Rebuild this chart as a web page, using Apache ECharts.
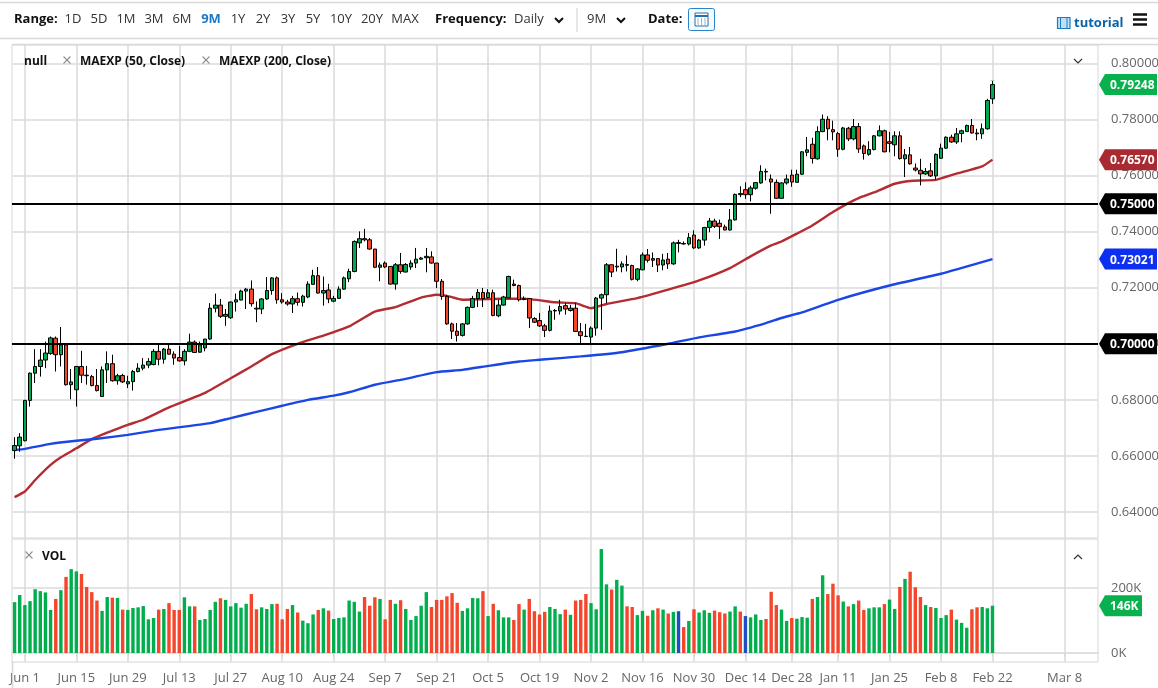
<!DOCTYPE html>
<html><head><meta charset="utf-8">
<style>html,body{margin:0;padding:0;background:#fff}#c{width:1158px;height:688px}</style>
<script src="https://cdn.jsdelivr.net/npm/echarts@6/dist/echarts.min.js"></script>
</head><body><div id="c"></div>
<script>
const tickIndex=[2,12,22,32,42,52,62,72,82,92,102,112,122,132,142,151,160,170,180,190,204];
const tickLabels=['Jun 1','Jun 15','Jun 29','Jul 13','Jul 27','Aug 10','Aug 24','Sep 7','Sep 21','Oct 5','Oct 19','Nov 2','Nov 16','Nov 30','Dec 14','Dec 28','Jan 11','Jan 25','Feb 8','Feb 22','Mar 8'];
const slotCount=211;
const opens=[.6619,.6636,.6654,.6798,.6895,.6919,.6942,.6965,.7020,.6961,
.6996,.6854,.6836,.6919,.6888,.6883,.6851,.6812,.6907,.6929,
.6868,.6887,.6857,.6865,.6901,.6913,.6924,.6926,.6973,.6945,
.6981,.6963,.6951,.6939,.6973,.7006,.6970,.6985,.7017,.7127,
.7138,.7098,.7093,.7149,.7156,.7188,.7195,.7127,.7124,.7160,
.7190,.7235,.7157,.7149,.7142,.7161,.7148,.7167,.7212,.7243,
.7181,.7192,.7152,.7162,.7195,.7232,.7258,.7360,.7375,.7371,
.7338,.7273,.7288,.7276,.7213,.7282,.7256,.7274,.7288,.7302,
.7307,.7310,.7288,.7223,.7169,.7071,.7045,.7030,.7071,.7130,
.7161,.7183,.7165,.7182,.7100,.7138,.7164,.7213,.7208,.7161,
.7161,.7090,.7083,.7064,.7048,.7117,.7117,.7136,.7119,.7127,
.7043,.7027,.7024,.7056,.7163,.7175,.7282,.7277,.7274,.7283,
.7279,.7230,.7264,.7317,.7298,.7304,.7281,.7302,.7285,.7358,
.7358,.7356,.7388,.7342,.7370,.7415,.7438,.7430,.7417,.7406,
.7442,.7536,.7550,.7532,.7555,.7574,.7615,.7588,.7576,.7519,
.7574,.7602,.7576,.7605,.7683,.7712,.7660,.7757,.7801,.7764,
.7750,.7694,.7769,.7731,.7775,.7706,.7676,.7693,.7742,.7760,
.7721,.7710,.7742,.7660,.7674,.7627,.7619,.7606,.7617,.7599,
.7662,.7698,.7737,.7720,.7750,.7757,.7779,.7752,.7749,.7767,.7874];
const closes=[.6637,.6667,.6798,.6895,.6919,.6942,.6967,.7021,.6961,.6996,
.6854,.6864,.6919,.6888,.6886,.6851,.6833,.6907,.6929,.6868,
.6886,.6864,.6865,.6901,.6913,.6924,.6937,.6973,.6945,.6981,
.6963,.6949,.6939,.6973,.7006,.6969,.6996,.7017,.7127,.7138,
.7098,.7105,.7149,.7157,.7188,.7195,.7143,.7124,.7160,.7190,
.7235,.7157,.7149,.7142,.7161,.7148,.7170,.7213,.7243,.7181,
.7190,.7160,.7162,.7195,.7235,.7258,.7365,.7375,.7371,.7338,
.7273,.7281,.7274,.7213,.7282,.7258,.7283,.7288,.7302,.7306,
.7312,.7288,.7223,.7169,.7071,.7045,.7030,.7071,.7130,.7161,
.7183,.7161,.7182,.7101,.7138,.7167,.7240,.7208,.7157,.7158,
.7092,.7077,.7064,.7048,.7117,.7119,.7133,.7124,.7127,.7044,
.7029,.7026,.7056,.7163,.7175,.7282,.7256,.7274,.7285,.7280,
.7230,.7267,.7317,.7298,.7304,.7281,.7299,.7285,.7360,.7361,
.7356,.7379,.7342,.7370,.7415,.7438,.7419,.7418,.7406,.7442,
.7533,.7532,.7532,.7556,.7575,.7615,.7613,.7577,.7519,.7574,
.7588,.7577,.7605,.7685,.7692,.7661,.7757,.7801,.7767,.7756,
.7694,.7770,.7731,.7775,.7695,.7679,.7693,.7742,.7760,.7685,
.7715,.7742,.7661,.7674,.7642,.7620,.7606,.7615,.7599,.7676,
.7698,.7737,.7720,.7749,.7760,.7779,.7752,.7749,.7767,.7868,.79248];
const lows=[.6590,.6615,.6652,.6776,.6860,.6883,.6913,.6961,.6901,.6919,
.6851,.6802,.6776,.6860,.6854,.6848,.6830,.6810,.6860,.6865,
.6854,.6860,.6842,.6833,.6898,.6905,.6913,.6923,.6923,.6929,
.6961,.6925,.6937,.6923,.6970,.6967,.6968,.6973,.7014,.7112,
.7092,.7064,.7089,.7115,.7155,.7124,.7133,.7077,.7106,.7157,
.7175,.7143,.7143,.7136,.7110,.7136,.7133,.7163,.7211,.7179,
.7136,.7145,.7148,.7160,.7193,.7220,.7255,.7342,.7365,.7336,
.7270,.7223,.7270,.7211,.7193,.7250,.7255,.7264,.7270,.7300,
.7255,.7286,.7199,.7157,.7068,.7017,.7008,.7026,.7068,.7127,
.7131,.7131,.7162,.7098,.7095,.7136,.7162,.7205,.7151,.7155,
.7056,.7074,.7060,.7024,.7044,.7086,.7104,.7104,.7115,.7042,
.7000,.7024,.6995,.7029,.7050,.7145,.7238,.7258,.7255,.7258,
.7226,.7223,.7262,.7290,.7274,.7256,.7262,.7267,.7282,.7326,
.7354,.7351,.7339,.7339,.7350,.7398,.7413,.7374,.7405,.7404,
.7440,.7523,.7517,.7508,.7550,.7571,.7583,.7464,.7517,.7517,
.7568,.7560,.7576,.7602,.7669,.7643,.7657,.7755,.7726,.7726,
.7667,.7690,.7723,.7726,.7681,.7657,.7671,.7690,.7740,.7683,
.7683,.7669,.7657,.7595,.7639,.7615,.7565,.7602,.7595,.7586,
.7660,.7695,.7717,.7713,.7719,.7756,.7750,.7726,.7731,.7764,.7856];
const highs=[.6667,.6681,.6800,.6898,.6981,.6981,.7008,.7026,.7026,.7060,
.7000,.6910,.6921,.6975,.6921,.6889,.6910,.6919,.6973,.6961,
.6893,.6893,.6886,.6907,.6931,.6949,.6949,.6981,.6996,.6985,
.6996,.6973,.6993,.6981,.7036,.7012,.7008,.7017,.7145,.7179,
.7160,.7124,.7151,.7179,.7193,.7199,.7226,.7151,.7163,.7238,
.7238,.7240,.7181,.7157,.7171,.7183,.7175,.7223,.7264,.7274,
.7240,.7214,.7171,.7205,.7240,.7268,.7369,.7401,.7410,.7377,
.7338,.7290,.7294,.7276,.7288,.7324,.7288,.7298,.7342,.7310,
.7342,.7330,.7288,.7231,.7174,.7076,.7074,.7074,.7133,.7171,
.7195,.7199,.7195,.7193,.7157,.7171,.7243,.7229,.7211,.7169,
.7163,.7095,.7110,.7071,.7136,.7124,.7157,.7145,.7139,.7145,
.7074,.7071,.7062,.7167,.7179,.7288,.7282,.7339,.7294,.7315,
.7282,.7270,.7326,.7338,.7326,.7306,.7321,.7324,.7365,.7371,
.7365,.7395,.7405,.7374,.7417,.7449,.7446,.7443,.7425,.7481,
.7536,.7562,.7576,.7564,.7577,.7637,.7625,.7604,.7586,.7576,
.7604,.7621,.7621,.7687,.7738,.7735,.7776,.7818,.7812,.7796,
.7756,.7774,.7774,.7802,.7788,.7711,.7723,.7745,.7779,.7764,
.7756,.7758,.7758,.7695,.7702,.7643,.7660,.7627,.7645,.7679,
.7714,.7740,.7746,.7770,.7764,.7782,.7802,.7767,.7786,.7874,.7939];
const volumes=[157,179,148,160,197,191,187,133,167,194,
235,259,252,244,204,188,162,130,173,171,
170,134,133,139,141,145,104,108,134,136,
154,133,133,172,144,144,102,105,133,158,
169,164,144,154,140,152,182,135,141,136,
151,152,104,136,148,125,100,92,119,133,
138,131,105,108,110,162,158,128,173,146,
172,167,104,164,152,163,136,102,114,146,
188,142,164,164,175,185,155,130,138,170,
169,191,114,152,132,110,110,102,151,134,
167,129,119,127,142,136,120,134,118,162,
164,182,154,135,321,212,196,226,208,144,
142,117,130,115,132,138,134,122,127,129,
80,99,135,125,132,124,131,126,122,128,
144,128,114,110,119,102,105,189,148,134,
99,108,106,111,109,167,173,240,182,214,
178,159,144,151,162,133,138,141,141,151,
165,136,204,229,251,203,173,148,142,139,
108,117,134,103,93,78,135,141,142,138,146];
const volumeKinds='ggggggggrg'+'rggrrrrggr'+'grggggggrg'+'rrrggrgggg'+'rgggggrrgg'+'grrrgrgggr'+'grggggggrr'+'rgrrgrgggg'+'grrrrrrggg'+'grgrgggrrg'+'rrrrgggrgr'+'rrggggrggr'+'rggrgrgrgb'+'rgrgggrrrg'+'grbgggrrrg'+'grgggrggrr'+'rgrgrrgggr'+'ggrgrrrgrg'+'ggrgggrrggg';
const ma50Index=[0,2,4,7,9,12,15,18,22,25,30,37,42,46,50,55,60,65,70,74,79,82,84,87,92,99,105,109,112,115,121,127,133,139,143,147,149,152,155,159,162,164,167,171,174,179,183,188,190];
const ma50Values=[.6453,.6473,.6514,.6568,.6595,.6627,.6660,.6683,.6711,.6729,.6773,.6825,.6877,.6919,.6963,.7000,.7029,.7062,.7115,.7131,.7165,.7175,.7171,.7157,.7160,.7161,.7148,.7145,.7127,.7142,.7163,.7193,.7226,.7270,.7312,.7351,.7365,.7393,.7422,.7470,.7502,.7520,.7540,.7571,.7581,.7585,.7607,.7633,.7657];
const ma200Index=[0,2,7,12,16,22,28,38,42,47,52,57,62,65,70,75,82,87,92,98,102,110,118,127,133,140,146,149,153,160,170,180,190];
const ma200Values=[.6621,.6625,.6643,.6654,.6661,.6675,.6693,.6717,.6735,.6757,.6779,.6800,.6815,.6827,.6854,.6871,.6899,.6907,.6921,.6937,.6943,.6955,.6970,.7000,.7023,.7044,.7074,.7092,.7112,.7157,.7208,.7250,.7302];
const priceTicks=[.64,.66,.68,.70,.72,.74,.76,.78,.80];
const volumeTicks=[0,200];
const levels=[.70,.75];
const priceTags=[.79248,.7657,.75,.73021,.70];
const priceTagText=['0.79248','0.76570','0.75000','0.73021','0.70000'];
const priceTagColor=['#09b14e','#a92a30','#000','#0d2ff0','#000'];
const rangeLabels=[['1D',73],['5D',99],['1M',126],['3M',154],['6M',182],['9M',211],['1Y',238],['2Y',263],['3Y',288],['5Y',313],['10Y',341],['20Y',372],['MAX',405]];

const FONT='"Open Sans"';
const categories=Array(slotCount).fill('');
tickIndex.forEach((t,i)=>categories[t]=tickLabels[i]);
const isTick=i=>categories[i]!=='';
const GREEN='#00a94f',RED='#f4472a';
const kindColor={g:'#00ae4d',r:'#f5452a',b:'#1e4fc2'};
const candles=opens.map((o,i)=>[o,closes[i],lows[i],highs[i]]);
const pair=(ix,vs)=>ix.map((x,i)=>[x,vs[i]]);
const gridLine={color:'#e4e4e4',width:2};
const vGridMarks={silent:true,z:1,symbol:'none',animation:false,label:{show:false},lineStyle:{color:'#dadada',width:1.5,type:'solid'},data:tickIndex.map(x=>({xAxis:x}))};

function t(text,x,y,o){return {type:'text',silent:true,z:50,x,y,style:Object.assign({text,fill:'#222',font:'13px '+FONT,textVerticalAlign:'middle',verticalAlign:'middle'},o||{})};}
function ln(x1,y1,x2,y2,c,w){return {type:'line',silent:true,z:50,shape:{x1,y1,x2,y2},style:{stroke:c||'#d6d6d6',lineWidth:w||1}};}
function chev(x,y,up,c,w,s){s=s||4;return {type:'polyline',silent:true,z:50,shape:{points:up?[[x-s,y+s/2],[x,y-s/2],[x+s,y+s/2]]:[[x-s,y-s/2],[x,y+s/2],[x+s,y-s/2]]},style:{stroke:c||'#333',lineWidth:w||1.2,fill:null}};}
function cross(x,y){return [ln(x-3.5,y-3.5,x+3.5,y+3.5,'#8a9199',1.1),ln(x-3.5,y+3.5,x+3.5,y-3.5,'#8a9199',1.1)];}
const bold='bold 12px '+FONT;
const graphics=[
 ln(0,2.5,1158,2.5,'#d8d8d8',1.5),ln(0,38.5,1158,38.5,'#d8d8d8',1.5),ln(12,44.5,1158,44.5,'#d8d8d8',1.5),
 ln(12.5,662,12.5,688,'#d6d6d6',1.5),
 t('Range:',14,19,{font:'bold 13px '+FONT,fill:'#111'}),
 ...rangeLabels.map(r=>t(r[0],r[1],19,{textAlign:'center',align:'center',fill:r[0]==='9M'?'#1e78c8':'#333',font:(r[0]==='9M'?'bold ':'')+'13px '+FONT})),
 t('Frequency:',435,19,{font:'bold 13px '+FONT,fill:'#111'}),
 t('Daily',514,19,{fill:'#333'}),chev(559,20,false,'#111',2,4),
 ln(577,8,577,32,'#d0d0d0',1),
 t('9M',587,19,{fill:'#333'}),chev(621,20,false,'#111',2,4),
 t('Date:',648,19,{font:'bold 13px '+FONT,fill:'#111'}),
 {type:'rect',silent:true,z:50,shape:{x:688.5,y:8.5,width:26,height:22,r:2},style:{fill:'#f4faff',stroke:'#2a82c8',lineWidth:1}},
 {type:'rect',silent:true,z:51,shape:{x:695,y:13,width:13,height:13},style:{fill:'#fff',stroke:'#2a6fa8',lineWidth:1}},
 Object.assign(ln(695,16,708,16,'#2a6fa8',2),{z:52}),Object.assign(ln(698,18,698,26,'#8fb8d8',1),{z:52}),Object.assign(ln(701.5,18,701.5,26,'#8fb8d8',1),{z:52}),Object.assign(ln(705,18,705,26,'#8fb8d8',1),{z:52}),
 {type:'rect',silent:true,z:50,shape:{x:1057.5,y:17.5,width:12.5,height:11},style:{fill:'#bfe0f4',stroke:'#1b7cc0',lineWidth:1.2}},
 Object.assign(ln(1060.5,18,1060.5,28,'#1b7cc0',1),{z:51}),Object.assign(ln(1067,18,1067,28,'#1b7cc0',1),{z:51}),
 t('tutorial',1074,23,{font:'bold 13px '+FONT,fill:'#0a62a8'}),
 ln(1133,14.5,1147,14.5,'#111',2.5),ln(1133,19.5,1147,19.5,'#111',2.5),ln(1133,24.5,1147,24.5,'#111',2.5),
 t('null',24,61.5,{font:bold,fill:'#111'}),...cross(67,60),t('MAEXP (50, Close)',80,61.5,{font:bold,fill:'#111'}),
 ...cross(206,60),t('MAEXP (200, Close)',219,61.5,{font:bold,fill:'#111'}),
 chev(1078,61,false,'#333',1.2,4),chev(1078,557,true,'#333',1.2,4),
 ...cross(29,555),t('VOL',42,556.5,{font:bold,fill:'#111'}),
 ln(990.5,80.5,994.5,80.5,'#8fdcae',1)
];

function tagItem(text,fill,right){
 return function(params,api){
  const i=api.value(2);
  const y=api.coord([0,api.value(1)])[1];
  const cs=params.coordSys;const x0=cs.x+cs.width+1;
  const lab=text[i],col=fill[i],xr=right[i];
  return {type:'group',children:[
   {type:'polygon',shape:{points:[[x0,y],[x0+6,y-10.5],[xr,y-10.5],[xr,y+10.5],[x0+6,y+10.5]]},style:{fill:col}},
   {type:'text',x:x0+11,y:y+1,style:{text:lab,fill:'#fff',font:'bold 12px '+FONT,verticalAlign:'middle',textVerticalAlign:'middle'}}
  ]};
 };
}

const chart=echarts.init(document.getElementById('c'));
chart.setOption({
 animation:false,backgroundColor:'#fff',
 graphic:graphics,
 grid:[
  {left:12,width:1086,top:45,height:493,show:true,outerBoundsMode:'none',borderColor:'#d6d6d6',borderWidth:1,backgroundColor:'transparent'},
  {left:12,width:1086,top:539,height:123,show:true,outerBoundsMode:'none',borderColor:'#d6d6d6',borderWidth:1,backgroundColor:'transparent'}
 ],
 xAxis:[
  {type:'category',gridIndex:0,min:0,max:slotCount-1,data:categories,axisLine:{show:false},axisTick:{show:false},axisLabel:{show:false},splitLine:{show:false}},
  {type:'category',gridIndex:1,min:0,max:slotCount-1,data:categories,axisLine:{show:true,lineStyle:{color:'#e0e0e0',width:2}},
   axisTick:{show:true,alignWithLabel:true,interval:isTick,length:4,lineStyle:{color:'#c8c8c8'}},
   axisLabel:{show:true,interval:isTick,color:'#666',fontFamily:FONT,fontSize:13,margin:10,hideOverlap:false,showMinLabel:true,showMaxLabel:true},splitLine:{show:false}}
 ],
 yAxis:[
  {type:'value',gridIndex:0,position:'right',min:0.63071,max:0.8066,
   axisLine:{show:false},axisTick:{show:false,customValues:priceTicks},
   axisLabel:{customValues:priceTicks,color:'#666',fontFamily:FONT,fontSize:13,align:'left',margin:13,padding:[2,0,0,0],formatter:v=>v.toFixed(5)},
   splitLine:{show:true,lineStyle:gridLine}},
  {type:'value',gridIndex:1,position:'right',min:-27.8,max:352,
   axisLine:{show:false},axisTick:{show:false,customValues:volumeTicks},
   axisLabel:{customValues:volumeTicks,color:'#666',fontFamily:FONT,fontSize:13,align:'left',margin:13,padding:[2,0,0,0],formatter:v=>v+'K'},
   splitLine:{show:true,lineStyle:gridLine}}
 ],
 series:[
  {type:'line',data:[],z:1,markLine:vGridMarks},
  {type:'line',data:[],z:1,xAxisIndex:1,yAxisIndex:1,markLine:vGridMarks},
  {type:'line',name:'MAEXP (50, Close)',data:pair(ma50Index,ma50Values),showSymbol:false,smooth:0.15,z:2,lineStyle:{color:'#b22c32',width:2.4}},
  {type:'line',name:'MAEXP (200, Close)',data:pair(ma200Index,ma200Values),showSymbol:false,smooth:0.15,z:2,lineStyle:{color:'#1a46e6',width:2.4}},
  {type:'candlestick',data:candles,barWidth:4,z:3,itemStyle:{color:GREEN,color0:RED,borderColor:'#000',borderColor0:'#000',borderWidth:1}},
  {type:'line',data:[],z:6,markLine:{silent:true,z:6,symbol:'none',label:{show:false},lineStyle:{color:'#000',width:2,type:'solid'},data:levels.map(v=>({yAxis:v}))}},
  {type:'bar',xAxisIndex:1,yAxisIndex:1,barWidth:3.4,z:3,data:volumes.map((v,i)=>({value:v,itemStyle:{color:kindColor[volumeKinds[i]]}}))},
  {type:'custom',z:8,renderItem:tagItem(priceTagText,priceTagColor,priceTags.map(()=>1157)),data:priceTags.map((v,i)=>[0,v,i]),encode:{x:0,y:1},silent:true},
  {type:'custom',z:8,xAxisIndex:1,yAxisIndex:1,renderItem:tagItem(['146K'],['#09b14e'],[1142]),data:[[0,volumes[190],0]],encode:{x:0,y:1},silent:true}
 ]
});
</script></body></html>
